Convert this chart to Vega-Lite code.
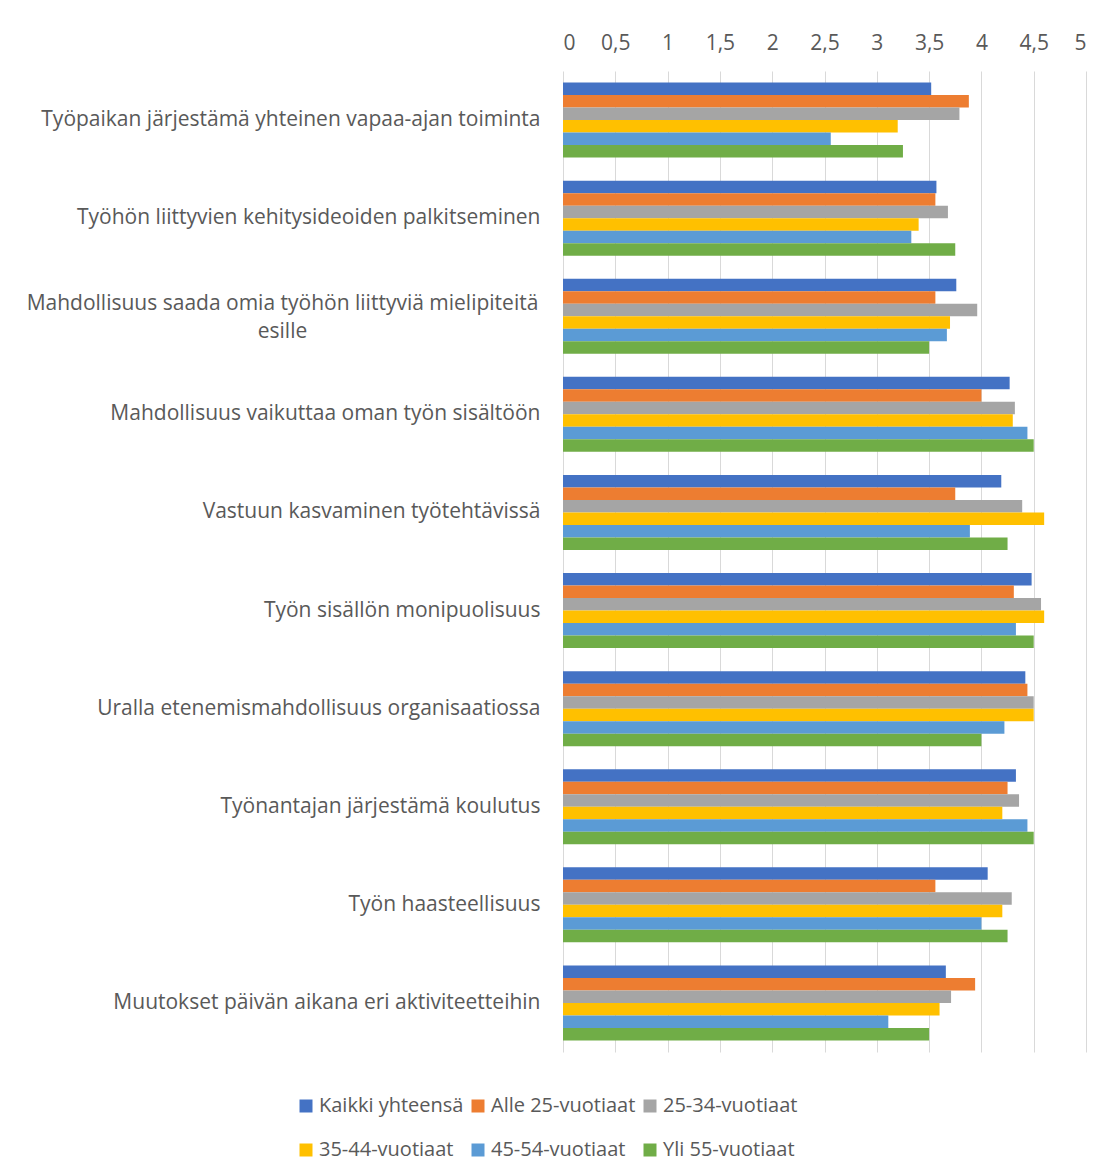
{
  "$schema": "https://vega.github.io/schema/vega-lite/v6.json",
  "autosize": "none",
  "padding": {"left": 563, "top": 71, "right": 25, "bottom": 123},
  "width": 523,
  "height": 981,
  "background": "white",
  "data": {
    "values": [
      {"kohde": "Työpaikan järjestämä yhteinen vapaa-ajan toiminta", "ryhma": "Kaikki yhteensä", "arvo": 3.52},
      {"kohde": "Työpaikan järjestämä yhteinen vapaa-ajan toiminta", "ryhma": "Alle 25-vuotiaat", "arvo": 3.88},
      {"kohde": "Työpaikan järjestämä yhteinen vapaa-ajan toiminta", "ryhma": "25-34-vuotiaat", "arvo": 3.79},
      {"kohde": "Työpaikan järjestämä yhteinen vapaa-ajan toiminta", "ryhma": "35-44-vuotiaat", "arvo": 3.2},
      {"kohde": "Työpaikan järjestämä yhteinen vapaa-ajan toiminta", "ryhma": "45-54-vuotiaat", "arvo": 2.56},
      {"kohde": "Työpaikan järjestämä yhteinen vapaa-ajan toiminta", "ryhma": "Yli 55-vuotiaat", "arvo": 3.25},

      {"kohde": "Työhön liittyvien kehitysideoiden palkitseminen", "ryhma": "Kaikki yhteensä", "arvo": 3.57},
      {"kohde": "Työhön liittyvien kehitysideoiden palkitseminen", "ryhma": "Alle 25-vuotiaat", "arvo": 3.56},
      {"kohde": "Työhön liittyvien kehitysideoiden palkitseminen", "ryhma": "25-34-vuotiaat", "arvo": 3.68},
      {"kohde": "Työhön liittyvien kehitysideoiden palkitseminen", "ryhma": "35-44-vuotiaat", "arvo": 3.4},
      {"kohde": "Työhön liittyvien kehitysideoiden palkitseminen", "ryhma": "45-54-vuotiaat", "arvo": 3.33},
      {"kohde": "Työhön liittyvien kehitysideoiden palkitseminen", "ryhma": "Yli 55-vuotiaat", "arvo": 3.75},

      {"kohde": "Mahdollisuus saada omia työhön liittyviä mielipiteitä esille", "ryhma": "Kaikki yhteensä", "arvo": 3.76},
      {"kohde": "Mahdollisuus saada omia työhön liittyviä mielipiteitä esille", "ryhma": "Alle 25-vuotiaat", "arvo": 3.56},
      {"kohde": "Mahdollisuus saada omia työhön liittyviä mielipiteitä esille", "ryhma": "25-34-vuotiaat", "arvo": 3.96},
      {"kohde": "Mahdollisuus saada omia työhön liittyviä mielipiteitä esille", "ryhma": "35-44-vuotiaat", "arvo": 3.7},
      {"kohde": "Mahdollisuus saada omia työhön liittyviä mielipiteitä esille", "ryhma": "45-54-vuotiaat", "arvo": 3.67},
      {"kohde": "Mahdollisuus saada omia työhön liittyviä mielipiteitä esille", "ryhma": "Yli 55-vuotiaat", "arvo": 3.5},

      {"kohde": "Mahdollisuus vaikuttaa oman työn sisältöön", "ryhma": "Kaikki yhteensä", "arvo": 4.27},
      {"kohde": "Mahdollisuus vaikuttaa oman työn sisältöön", "ryhma": "Alle 25-vuotiaat", "arvo": 4.0},
      {"kohde": "Mahdollisuus vaikuttaa oman työn sisältöön", "ryhma": "25-34-vuotiaat", "arvo": 4.32},
      {"kohde": "Mahdollisuus vaikuttaa oman työn sisältöön", "ryhma": "35-44-vuotiaat", "arvo": 4.3},
      {"kohde": "Mahdollisuus vaikuttaa oman työn sisältöön", "ryhma": "45-54-vuotiaat", "arvo": 4.44},
      {"kohde": "Mahdollisuus vaikuttaa oman työn sisältöön", "ryhma": "Yli 55-vuotiaat", "arvo": 4.5},

      {"kohde": "Vastuun kasvaminen työtehtävissä", "ryhma": "Kaikki yhteensä", "arvo": 4.19},
      {"kohde": "Vastuun kasvaminen työtehtävissä", "ryhma": "Alle 25-vuotiaat", "arvo": 3.75},
      {"kohde": "Vastuun kasvaminen työtehtävissä", "ryhma": "25-34-vuotiaat", "arvo": 4.39},
      {"kohde": "Vastuun kasvaminen työtehtävissä", "ryhma": "35-44-vuotiaat", "arvo": 4.6},
      {"kohde": "Vastuun kasvaminen työtehtävissä", "ryhma": "45-54-vuotiaat", "arvo": 3.89},
      {"kohde": "Vastuun kasvaminen työtehtävissä", "ryhma": "Yli 55-vuotiaat", "arvo": 4.25},

      {"kohde": "Työn sisällön monipuolisuus", "ryhma": "Kaikki yhteensä", "arvo": 4.48},
      {"kohde": "Työn sisällön monipuolisuus", "ryhma": "Alle 25-vuotiaat", "arvo": 4.31},
      {"kohde": "Työn sisällön monipuolisuus", "ryhma": "25-34-vuotiaat", "arvo": 4.57},
      {"kohde": "Työn sisällön monipuolisuus", "ryhma": "35-44-vuotiaat", "arvo": 4.6},
      {"kohde": "Työn sisällön monipuolisuus", "ryhma": "45-54-vuotiaat", "arvo": 4.33},
      {"kohde": "Työn sisällön monipuolisuus", "ryhma": "Yli 55-vuotiaat", "arvo": 4.5},

      {"kohde": "Uralla etenemismahdollisuus organisaatiossa", "ryhma": "Kaikki yhteensä", "arvo": 4.42},
      {"kohde": "Uralla etenemismahdollisuus organisaatiossa", "ryhma": "Alle 25-vuotiaat", "arvo": 4.44},
      {"kohde": "Uralla etenemismahdollisuus organisaatiossa", "ryhma": "25-34-vuotiaat", "arvo": 4.5},
      {"kohde": "Uralla etenemismahdollisuus organisaatiossa", "ryhma": "35-44-vuotiaat", "arvo": 4.5},
      {"kohde": "Uralla etenemismahdollisuus organisaatiossa", "ryhma": "45-54-vuotiaat", "arvo": 4.22},
      {"kohde": "Uralla etenemismahdollisuus organisaatiossa", "ryhma": "Yli 55-vuotiaat", "arvo": 4.0},

      {"kohde": "Työnantajan järjestämä koulutus", "ryhma": "Kaikki yhteensä", "arvo": 4.33},
      {"kohde": "Työnantajan järjestämä koulutus", "ryhma": "Alle 25-vuotiaat", "arvo": 4.25},
      {"kohde": "Työnantajan järjestämä koulutus", "ryhma": "25-34-vuotiaat", "arvo": 4.36},
      {"kohde": "Työnantajan järjestämä koulutus", "ryhma": "35-44-vuotiaat", "arvo": 4.2},
      {"kohde": "Työnantajan järjestämä koulutus", "ryhma": "45-54-vuotiaat", "arvo": 4.44},
      {"kohde": "Työnantajan järjestämä koulutus", "ryhma": "Yli 55-vuotiaat", "arvo": 4.5},

      {"kohde": "Työn haasteellisuus", "ryhma": "Kaikki yhteensä", "arvo": 4.06},
      {"kohde": "Työn haasteellisuus", "ryhma": "Alle 25-vuotiaat", "arvo": 3.56},
      {"kohde": "Työn haasteellisuus", "ryhma": "25-34-vuotiaat", "arvo": 4.29},
      {"kohde": "Työn haasteellisuus", "ryhma": "35-44-vuotiaat", "arvo": 4.2},
      {"kohde": "Työn haasteellisuus", "ryhma": "45-54-vuotiaat", "arvo": 4.0},
      {"kohde": "Työn haasteellisuus", "ryhma": "Yli 55-vuotiaat", "arvo": 4.25},

      {"kohde": "Muutokset päivän aikana eri aktiviteetteihin", "ryhma": "Kaikki yhteensä", "arvo": 3.66},
      {"kohde": "Muutokset päivän aikana eri aktiviteetteihin", "ryhma": "Alle 25-vuotiaat", "arvo": 3.94},
      {"kohde": "Muutokset päivän aikana eri aktiviteetteihin", "ryhma": "25-34-vuotiaat", "arvo": 3.71},
      {"kohde": "Muutokset päivän aikana eri aktiviteetteihin", "ryhma": "35-44-vuotiaat", "arvo": 3.6},
      {"kohde": "Muutokset päivän aikana eri aktiviteetteihin", "ryhma": "45-54-vuotiaat", "arvo": 3.11},
      {"kohde": "Muutokset päivän aikana eri aktiviteetteihin", "ryhma": "Yli 55-vuotiaat", "arvo": 3.5}
    ]
  },
  "mark": {"type": "bar"},
  "encoding": {
    "y": {
      "field": "kohde",
      "type": "nominal",
      "sort": null,
      "scale": {"paddingInner": 0.235, "paddingOuter": 0.1175},
      "axis": {
        "title": null,
        "domain": false,
        "ticks": false,
        "labelLimit": 600,
        "labelFont": "Open Sans",
        "labelFontSize": 21,
        "labelColor": "#595959",
        "labelLineHeight": 28,
        "labelPadding": {"condition": {"test": "length(datum.label) > 55", "value": 281}, "value": 23},
        "labelAlign": {"condition": {"test": "length(datum.label) > 55", "value": "center"}, "value": "right"},
        "labelOffset": {"condition": {"test": "length(datum.label) > 55", "value": -12}, "value": 0},
        "labelExpr": "length(datum.label) > 55 ? ['Mahdollisuus saada omia työhön liittyviä mielipiteitä', 'esille'] : datum.label"
      }
    },
    "x": {
      "field": "arvo",
      "type": "quantitative",
      "scale": {"domain": [0, 5], "nice": false},
      "axis": {
        "orient": "top",
        "title": null,
        "values": [0, 0.5, 1, 1.5, 2, 2.5, 3, 3.5, 4, 4.5, 5],
        "labelExpr": "replace(format(datum.value, '~g'), '.', ',')",
        "domain": false,
        "ticks": false,
        "grid": true,
        "gridColor": "#d9d9d9",
        "gridWidth": 1,
        "labelFont": "Open Sans",
        "labelFontSize": 21,
        "labelColor": "#595959",
        "labelPadding": 18
      }
    },
    "yOffset": {
      "field": "ryhma",
      "type": "nominal",
      "sort": ["Kaikki yhteensä", "Alle 25-vuotiaat", "25-34-vuotiaat", "35-44-vuotiaat", "45-54-vuotiaat", "Yli 55-vuotiaat"]
    },
    "color": {
      "field": "ryhma",
      "type": "nominal",
      "scale": {
        "domain": ["Kaikki yhteensä", "Alle 25-vuotiaat", "25-34-vuotiaat", "35-44-vuotiaat", "45-54-vuotiaat", "Yli 55-vuotiaat"],
        "range": ["#4472C4", "#ED7D31", "#A5A5A5", "#FFC000", "#5B9BD5", "#70AD47"]
      },
      "legend": {
        "title": null,
        "orient": "none",
        "legendX": -267,
        "legendY": 1025,
        "direction": "horizontal",
        "columns": 3,
        "padding": 0,
        "symbolType": "square",
        "symbolSize": 169,
        "symbolStrokeWidth": 0,
        "labelFont": "Open Sans",
        "labelFontSize": 20,
        "labelColor": "#595959",
        "labelOffset": 3,
        "columnPadding": 4,
        "rowPadding": 24,
        "labelLimit": 400
      }
    }
  },
  "config": {
    "view": {"stroke": null}
  }
}
